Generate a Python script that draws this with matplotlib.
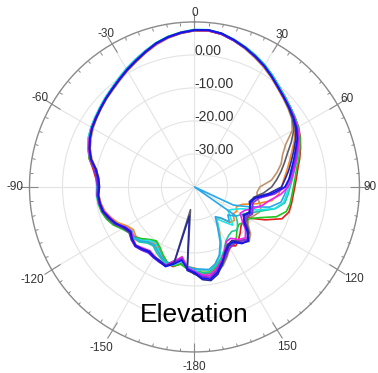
import numpy as np
import matplotlib as mpl
mpl.use('Agg')
import matplotlib.pyplot as plt
from matplotlib.ticker import FixedLocator

# Angles (deg) of the measured points, -180 .. 175 every 5 deg
angles = np.arange(-180, 180, 5)

tick_angles = [0, 30, 60, 90, 120, 150, 180, 210, 240, 270, 300, 330]
tick_labels = ['0', '30', '60', '90', '120', '150', '-180', '-150', '-120', '-90', '-60', '-30']
# distance (px) of each angle label centre from the plot centre
label_dist = [174, 176, 176.5, 176, 184, 184.5, 180, 185.5, 187, 179.5, 178, 177]
r_ticks = [-30, -20, -10, 0]
r_labels = ['-30.00', '-20.00', '-10.00', '0.00']
title = 'Elevation'

# Gain in dB, one list per trace
tan = [-14.4, -15.6, -18.6, -16.6, -15.0, -15.4, -15.6, -15.8, -15.2, -14.8, -15.6, -16.8,
       -16.0, -14.2, -13.0, -11.8, -11.2, -10.9, -11.2, -10.8, -9.8, -7.8, -6.4, -5.4,
       -4.5, -3.8, -3.1, -2.3, -1.6, -0.6, 0.6, 1.8, 3.2, 4.6, 5.8, 6.7,
       7.3, 7.5, 7.0, 5.9, 4.6, 3.2, 1.9, 0.5, -0.9, -2.0, -3.0, -4.0,
       -5.8, -9.5, -11.6, -12.8, -14.6, -16.6, -20.2, -21.0, -20.6, -19.4, -18.6, -19.8,
       -21.0, -20.2, -17.8, -16.6, -17.8, -19.2, -18.6, -16.6, -14.6, -13.4, -12.8, -13.4]
orange = [-15.4, -15.8, -17.0, -15.6, -15.2, -16.4, -17.8, -19.0, -18.4, -17.2, -16.8, -17.4,
          -16.4, -14.4, -13.0, -11.8, -11.2, -10.9, -11.0, -10.6, -9.8, -7.8, -6.3, -5.2,
          -4.4, -3.7, -3.0, -2.2, -1.4, -0.4, 0.8, 1.9, 3.3, 4.7, 5.9, 6.8,
          7.4, 7.5, 7.0, 5.9, 4.7, 3.4, 2.0, 0.6, -0.8, -1.9, -2.8, -3.7,
          -4.8, -6.6, -8.6, -10.2, -11.6, -12.8, -13.6, -14.4, -16.2, -20.4, -24.6, -26.0,
          -25.2, -25.8, -24.2, -24.8, -27.8, -28.4, -25.0, -20.8, -17.8, -15.8, -14.4, -14.6]
red = [-15.0, -15.2, -16.4, -15.0, -15.4, -16.8, -18.4, -19.6, -19.0, -17.6, -16.4, -16.2,
       -14.8, -13.0, -11.8, -11.0, -10.6, -10.4, -10.6, -10.0, -8.8, -7.0, -5.8, -4.8,
       -4.0, -3.4, -2.8, -2.0, -1.3, -0.3, 0.8, 2.0, 3.4, 4.9, 6.0, 6.8,
       7.4, 7.5, 7.0, 6.0, 4.9, 3.7, 2.5, 1.1, -0.3, -1.3, -2.2, -2.9,
       -3.6, -4.6, -5.8, -7.0, -8.2, -9.0, -9.6, -10.0, -10.2, -10.4, -11.8, -16.4,
       -21.2, -22.0, -21.6, -20.4, -19.2, -18.2, -19.4, -18.0, -16.4, -14.8, -13.4, -13.8]
green = [-14.8, -15.0, -16.2, -15.2, -15.8, -17.4, -19.0, -20.0, -19.2, -17.8, -16.2, -15.8,
         -14.6, -12.8, -11.6, -10.8, -10.4, -10.3, -10.8, -10.4, -9.2, -7.0, -5.6, -4.6,
         -3.9, -3.3, -2.6, -1.8, -1.0, 0.0, 1.2, 2.4, 3.7, 5.1, 6.2, 7.0,
         7.6, 7.7, 7.2, 6.2, 5.1, 3.9, 2.6, 1.2, -0.2, -1.3, -2.2, -2.9,
         -3.7, -4.7, -6.0, -7.3, -8.6, -9.4, -10.0, -10.4, -10.6, -11.2, -13.6, -18.0,
         -20.8, -21.4, -22.4, -21.8, -20.2, -19.0, -20.0, -18.6, -16.8, -15.2, -13.8, -14.0]
teal = [-14.6, -15.4, -17.6, -16.0, -15.0, -16.0, -17.0, -18.2, -17.8, -16.4, -15.8, -16.0,
        -15.0, -13.2, -12.0, -11.0, -10.6, -10.4, -10.6, -10.4, -9.5, -7.2, -5.6, -4.5,
        -3.8, -3.2, -2.6, -1.8, -1.0, 0.1, 1.3, 2.5, 3.8, 5.2, 6.3, 7.1,
        7.7, 7.8, 7.3, 6.3, 5.2, 4.0, 2.7, 1.3, -0.1, -1.2, -2.1, -2.9,
        -3.8, -5.0, -6.4, -7.8, -9.2, -10.2, -11.0, -11.6, -12.2, -14.6, -18.6, -21.4,
        -23.4, -24.6, -23.0, -21.6, -22.4, -22.0, -21.0, -18.8, -16.6, -15.0, -13.6, -13.8]
cyan = [-14.6, -15.2, -17.0, -15.6, -15.2, -16.6, -18.2, -19.4, -18.8, -17.2, -16.0, -16.2,
        -15.4, -13.4, -12.2, -11.0, -10.5, -10.2, -10.4, -10.2, -9.4, -7.4, -5.7, -4.6,
        -3.8, -3.2, -2.5, -1.7, -0.9, 0.2, 1.4, 2.6, 3.9, 5.2, 6.3, 7.1,
        7.7, 7.8, 7.2, 6.1, 5.0, 3.8, 2.5, 1.1, -0.3, -1.4, -2.3, -3.1,
        -4.0, -5.3, -6.8, -8.2, -9.6, -10.6, -11.4, -12.0, -12.6, -14.8, -19.6, -24.4,
        -26.4, -27.6, -25.8, -23.6, -26.2, -28.2, -25.4, -21.0, -17.6, -15.6, -14.4, -14.8]
sky = [-15.2, -15.8, -17.2, -16.2, -15.6, -16.4, -17.6, -18.6, -18.2, -16.8, -16.2, -16.8,
       -15.8, -13.8, -12.4, -11.3, -10.8, -10.5, -10.6, -10.3, -9.6, -7.6, -6.0, -4.9,
       -4.1, -3.5, -2.8, -2.0, -1.1, -0.1, 1.1, 2.3, 3.7, 5.1, 6.2, 7.0,
       7.6, 7.7, 7.1, 6.0, 4.8, 3.5, 2.2, 0.8, -0.5, -1.6, -2.5, -3.3,
       -4.3, -5.8, -7.4, -8.8, -10.2, -11.2, -12.0, -12.6, -13.4, -16.4, -22.4, -27.0,
       -40.0, -24.6, -26.8, -25.0, -27.8, -29.0, -26.0, -21.6, -18.0, -15.8, -14.6, -15.0]
gray = [-13.6, -14.8, -33.0, -17.0, -14.8, -15.0, -15.3, -15.7, -15.1, -14.6, -15.0, -15.8,
        -15.0, -13.2, -12.0, -11.0, -10.6, -10.4, -10.7, -10.3, -9.3, -7.4, -6.1, -5.1,
        -4.3, -3.7, -3.0, -2.2, -1.4, -0.4, 0.8, 2.0, 3.4, 4.9, 6.0, 6.8,
        7.4, 7.6, 7.1, 6.0, 4.8, 3.5, 2.2, 0.7, -0.7, -1.8, -2.8, -3.8,
        -5.2, -7.6, -10.0, -11.8, -13.4, -15.0, -16.6, -19.0, -21.8, -22.0, -21.2, -20.6,
        -21.6, -20.6, -18.4, -17.6, -18.8, -20.0, -19.2, -17.0, -15.0, -13.0, -12.0, -12.6]
magenta = [-14.4, -15.4, -18.4, -16.8, -14.8, -15.2, -15.8, -16.4, -15.8, -15.0, -15.6, -16.6,
           -15.8, -13.8, -12.8, -11.6, -11.0, -10.6, -10.8, -10.3, -9.2, -7.2, -5.8, -4.8,
           -4.0, -3.4, -2.8, -2.0, -1.2, -0.2, 1.0, 2.2, 3.6, 5.0, 6.1, 7.0,
           7.5, 7.6, 7.1, 6.0, 4.9, 3.6, 2.3, 0.9, -0.5, -1.5, -2.4, -3.1,
           -3.9, -5.1, -6.6, -8.0, -9.3, -10.4, -11.6, -13.8, -16.8, -18.6, -21.0, -23.2,
           -24.0, -22.4, -19.8, -18.2, -19.2, -21.0, -20.8, -18.4, -16.2, -14.2, -12.8, -13.2]
purple = [-14.2, -15.2, -18.0, -16.4, -14.5, -14.8, -15.2, -15.6, -15.0, -14.5, -15.1, -16.0,
          -15.2, -13.4, -12.3, -11.2, -10.7, -10.4, -10.6, -10.2, -9.2, -7.3, -6.0, -5.0,
          -4.2, -3.6, -2.9, -2.1, -1.2, -0.2, 1.0, 2.2, 3.5, 4.9, 6.0, 6.9,
          7.5, 7.6, 7.0, 5.9, 4.8, 3.5, 2.2, 0.8, -0.6, -1.6, -2.4, -3.2,
          -4.1, -5.4, -7.0, -8.4, -9.8, -11.0, -12.4, -15.6, -20.2, -21.6, -21.4, -20.8,
          -22.0, -21.2, -18.8, -17.4, -18.4, -19.0, -18.6, -17.2, -15.8, -13.8, -12.2, -12.8]
navy = [-13.8, -14.6, -31.0, -16.2, -14.6, -15.3, -15.6, -16.2, -15.5, -14.9, -15.2, -16.2,
        -15.3, -13.9, -12.4, -11.2, -10.8, -10.7, -11.0, -10.6, -9.6, -7.5, -6.1, -5.0,
        -4.1, -3.5, -2.8, -2.0, -1.2, -0.2, 1.0, 2.2, 3.6, 5.1, 6.2, 7.0,
        7.6, 7.8, 7.3, 6.2, 5.0, 3.7, 2.4, 0.9, -0.5, -1.6, -2.6, -3.5,
        -4.6, -6.2, -8.0, -9.6, -11.0, -12.4, -13.6, -17.4, -21.6, -22.8, -22.0, -21.8,
        -23.0, -21.4, -18.6, -16.8, -17.8, -20.2, -19.8, -18.2, -15.2, -12.6, -11.2, -11.8]
blue = [-14.0, -15.0, -17.5, -15.8, -14.3, -15.0, -15.4, -15.9, -15.3, -14.7, -15.4, -16.4,
        -15.6, -13.6, -12.6, -11.4, -11.0, -10.8, -11.2, -10.9, -9.8, -7.6, -6.2, -5.1,
        -4.2, -3.6, -2.9, -2.1, -1.3, -0.3, 0.9, 2.1, 3.5, 5.0, 6.1, 6.9,
        7.5, 7.7, 7.2, 6.1, 4.9, 3.6, 2.3, 0.8, -0.6, -1.7, -2.6, -3.4,
        -4.3, -5.6, -7.4, -8.9, -10.2, -11.2, -12.6, -16.5, -21.0, -22.4, -22.2, -21.4,
        -22.6, -21.8, -19.2, -17.0, -17.6, -19.6, -19.4, -17.8, -15.6, -13.2, -11.6, -12.2]

traces = [(tan, '#c0946a'), (orange, '#f28c28'), (red, '#e41e1e'), (green, '#1ec81e'),
          (teal, '#1ec8a0'), (cyan, '#1ee6e6'), (sky, '#28a8e8'), (gray, '#5c5c6c'),
          (magenta, '#f01ef0'), (purple, '#8a2be2'), (navy, '#2828a0'), (blue, '#1414f0')]

fig = plt.figure(figsize=(3.78, 3.73), dpi=100)
ax = fig.add_axes([0.078, 0.0563, 0.873, 0.885], projection='polar')
ax.set_theta_zero_location('N')
ax.set_theta_direction(-1)

theta = np.deg2rad(np.append(angles, angles[0] + 360))
for vals, col in traces:
    ax.plot(theta, np.append(vals, vals[0]), color=col, lw=1.2)

ax.set_ylim(-40, 10)
ax.set_yticks(r_ticks)
ax.set_yticklabels([])
ax.set_xticks(np.deg2rad(tick_angles))
ax.set_xticklabels([])
ax.xaxis.set_minor_locator(FixedLocator(np.deg2rad(np.arange(0, 360, 5))))
ax.tick_params(axis='x', which='both', bottom=False, top=True)
ax.tick_params(axis='x', which='major', direction='inout', length=6.5, width=0.8, color='#888888')
ax.tick_params(axis='x', which='minor', direction='in', length=2.3, width=0.7, color='#888888')
ax.grid(True, color='#e4e4e4', lw=0.8)
ax.spines['polar'].set_color('#8a8a8a')
ax.spines['polar'].set_linewidth(1.0)

# angle labels, placed around the outer ring (axes box is a 330 px square)
box_px = 330.0
for a, lab, d in zip(tick_angles, tick_labels, label_dist):
    t = np.deg2rad(a)
    ax.text(0.5 + d / box_px * np.sin(t), 0.5 + d / box_px * np.cos(t), lab,
            transform=ax.transAxes, ha='center', va='center', fontsize=8.5,
            color='#333333', family='Liberation Sans', clip_on=False)

for r, lab in zip(r_ticks, r_labels):
    ax.text(0, r + 1.3, lab, ha='left', va='center', fontsize=10, color='#333333',
            family='Liberation Sans')

fig.text(0.515, 0.137, title, ha='center', va='baseline', fontsize=19,
         family='Liberation Sans', color='black')

plt.savefig('out.png', dpi=100)
